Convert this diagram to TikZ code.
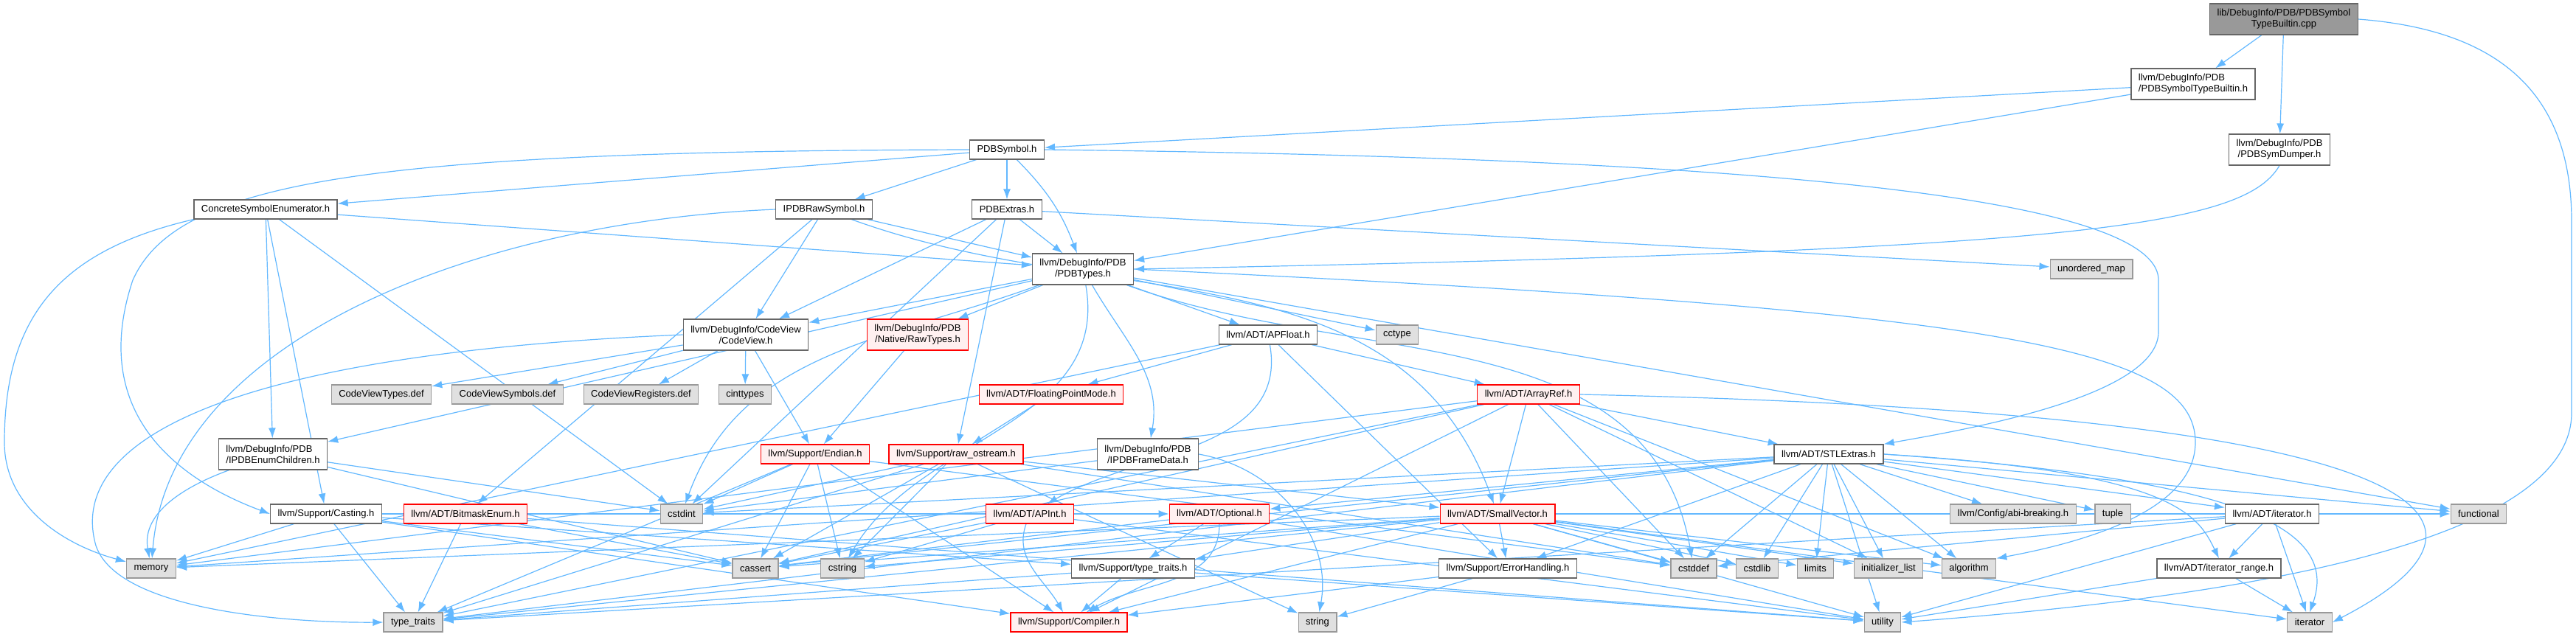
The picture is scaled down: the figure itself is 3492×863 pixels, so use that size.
\documentclass[tikz,border=0pt]{standalone}
\usepackage{fontspec}
\setmainfont{Liberation Sans}
\usepackage{tikz}
\usetikzlibrary{arrows.meta,backgrounds}
\definecolor{depblue}{HTML}{63B8FF}
\definecolor{boxgray}{HTML}{666666}
\definecolor{sysline}{HTML}{999999}
\definecolor{sysfill}{HTML}{E0E0E0}
\definecolor{cutfill}{HTML}{FFF0F0}
\definecolor{rootfill}{HTML}{999999}

\begin{document}
\begin{tikzpicture}[x=0.5pt,y=-0.5pt,>={Latex[length=7pt,width=5pt]},font=\fontsize{6.5}{7.5}\selectfont]
\tikzset{
file/.style={draw=boxgray,line width=0.6pt,fill=white,minimum height=13pt,inner xsep=5pt,inner ysep=2pt,align=center},
twoline/.style={minimum height=21pt},
sysfile/.style={file,draw=sysline,fill=sysfill},
cutfile/.style={file,draw=red,fill=cutfill},
mainfile/.style={file,fill=rootfill},
dep/.style={->,color=depblue,line width=0.6pt}}
\useasboundingbox (0,0) rectangle (3492,863);

\node[mainfile,twoline] (cpp) at (3096,26) {lib/DebugInfo/PDB/PDBSymbol\\TypeBuiltin.cpp};
\node[file,twoline,align=left] (bltn) at (2973,114) {llvm/DebugInfo/PDB\\/PDBSymbolTypeBuiltin.h};
\node[file] (sym) at (1365,203) {PDBSymbol.h};
\node[file,twoline] (dump) at (3090,203) {llvm/DebugInfo/PDB\\/PDBSymDumper.h};
\node[file] (cse) at (360,284) {ConcreteSymbolEnumerator.h};
\node[file] (raw) at (1117,284) {IPDBRawSymbol.h};
\node[file] (extras) at (1365,284) {PDBExtras.h};
\node[sysfile] (umap) at (2835,365) {unordered\_map};
\node[file,twoline] (types) at (1468,365) {llvm/DebugInfo/PDB\\/PDBTypes.h};
\node[file,twoline] (cv) at (1011,454) {llvm/DebugInfo/CodeView\\/CodeView.h};
\node[cutfile,twoline] (rawty) at (1244,454) {llvm/DebugInfo/PDB\\/Native/RawTypes.h};
\node[file] (apfloat) at (1719,454) {llvm/ADT/APFloat.h};
\node[sysfile] (cctype) at (1894,454) {cctype};
\node[sysfile] (cvtypes) at (517,535) {CodeViewTypes.def};
\node[sysfile] (cvsyms) at (688,535) {CodeViewSymbols.def};
\node[sysfile] (cvregs) at (869,535) {CodeViewRegisters.def};
\node[sysfile] (cinttypes) at (1010,535) {cinttypes};
\node[cutfile] (fpmode) at (1425,535) {llvm/ADT/FloatingPointMode.h};
\node[cutfile] (arrayref) at (2072,535) {llvm/ADT/ArrayRef.h};
\node[file,twoline,align=left] (enumch) at (370,616) {llvm/DebugInfo/PDB\\/IPDBEnumChildren.h};
\node[cutfile] (endian) at (1105,616) {llvm/Support/Endian.h};
\node[cutfile] (rawos) at (1296,616) {llvm/Support/raw\_ostream.h};
\node[file,twoline] (frame) at (1556,616) {llvm/DebugInfo/PDB\\/IPDBFrameData.h};
\node[file] (stlx) at (2479,616) {llvm/ADT/STLExtras.h};
\node[file] (casting) at (442,697) {llvm/Support/Casting.h};
\node[cutfile] (bitmask) at (631,697) {llvm/ADT/BitmaskEnum.h};
\node[sysfile] (cstdint) at (924,697) {cstdint};
\node[cutfile] (apint) at (1396,697) {llvm/ADT/APInt.h};
\node[cutfile] (optional) at (1653,697) {llvm/ADT/Optional.h};
\node[cutfile] (smallvec) at (2030,697) {llvm/ADT/SmallVector.h};
\node[sysfile] (abi) at (2729,697) {llvm/Config/abi-breaking.h};
\node[sysfile] (tuple) at (2864,697) {tuple};
\node[file] (iter) at (3080,697) {llvm/ADT/iterator.h};
\node[sysfile] (functional) at (3360,697) {functional};
\node[sysfile] (memory) at (205,771) {memory};
\node[sysfile] (cassert) at (1024,771) {cassert};
\node[sysfile] (cstring) at (1142,771) {cstring};
\node[file] (sttraits) at (1536,771) {llvm/Support/type\_traits.h};
\node[file] (errh) at (2044,771) {llvm/Support/ErrorHandling.h};
\node[sysfile] (cstddef) at (2296,771) {cstddef};
\node[sysfile] (cstdlib) at (2382,771) {cstdlib};
\node[sysfile] (limits) at (2461,771) {limits};
\node[sysfile] (initl) at (2560,771) {initializer\_list};
\node[sysfile] (algorithm) at (2669,771) {algorithm};
\node[file] (iterrange) at (3008,771) {llvm/ADT/iterator\_range.h};
\node[sysfile] (typetraits) at (560,844) {type\_traits};
\node[cutfile] (compiler) at (1449,844) {llvm/Support/Compiler.h};
\node[sysfile] (string) at (1786,844) {string};
\node[sysfile] (utility) at (2552,844) {utility};
\node[sysfile] (iterator) at (3131,844) {iterator};

\begin{pgfonlayer}{background}
% the source file and the PDB headers
\draw[dep] (cpp)--(bltn);
\draw[dep] (cpp)--(dump);
\draw[dep] (cpp.east) .. controls (3380,40) and (3486,120) .. (3486,300) -- (3486,560) .. controls (3486,760) and (2900,820) .. (utility.east);
\draw[dep] (bltn)--(sym);
\draw[dep] (bltn)--(types);
\draw[dep] (dump.south) .. controls (3040,310) and (2800,340) .. (types.east);
\draw[dep] (sym)--(cse);
\draw[dep] (sym)--(raw);
\draw[dep] (sym)--(extras);
\draw[dep] (sym) to[bend left=12] (types);
\draw[dep] (sym.east) .. controls (2200,212) and (2926,250) .. (2926,380) -- (2926,450) .. controls (2926,540) and (2650,585) .. (stlx.north east);
\draw[dep] (sym.west) .. controls (500,205) and (240,245) .. (180,380) .. controls (120,560) and (240,650) .. (casting.west);
\draw[dep] (cse)--(types);
\draw[dep] (cse)--(enumch);
\draw[dep] (cse)--(casting);
\draw[dep] (cse)--(cstdint);
\draw[dep] (cse.south west) .. controls (80,340) and (6,430) .. (6,600) .. controls (6,690) and (90,740) .. (memory);
\draw[dep] (raw)--(types);
\draw[dep] (raw)--(cv);
\draw[dep] (raw)--(bitmask);
\draw[dep] (raw) to[out=-20,in=110] (smallvec);
\draw[dep] (raw.west) .. controls (650,300) and (230,460) .. (memory);
\draw[dep] (extras)--(types);
\draw[dep] (extras)--(cv);
\draw[dep] (extras)--(rawos);
\draw[dep] (extras)--(cstdint);
\draw[dep] (extras)--(umap);
\draw[dep] (types)--(cv);
\draw[dep] (types)--(rawty);
\draw[dep] (types)--(apfloat);
\draw[dep] (types)--(cctype);
\draw[dep] (types)--(enumch);
\draw[dep] (types) to[out=-60,in=80] (frame);
\draw[dep] (types) to[out=200,in=70] (cstdint);
\draw[dep] (types) to[out=-80,in=60] (cstring);
\draw[dep] (types) to[out=-20,in=100] (cstddef);
\draw[dep] (types)--(functional);
\draw[dep] (types.east) .. controls (2700,420) and (2976,470) .. (2976,600) .. controls (2976,700) and (2800,740) .. (algorithm.north east);
% CodeView and the ADT headers
\draw[dep] (cv)--(cvtypes);
\draw[dep] (cv)--(cvsyms);
\draw[dep] (cv)--(cvregs);
\draw[dep] (cv)--(cinttypes);
\draw[dep] (cv)--(endian);
\draw[dep] (cv.west) .. controls (300,480) and (90,600) .. (130,740) .. controls (160,830) and (400,845) .. (typetraits.west);
\draw[dep] (rawty)--(endian);
\draw[dep] (apfloat) to[out=-80,in=30] (apint);
\draw[dep] (apfloat)--(arrayref);
\draw[dep] (apfloat)--(fpmode);
\draw[dep] (apfloat)--(errh);
\draw[dep] (apfloat)--(memory);
\draw[dep] (fpmode)--(rawos);
\draw[dep] (arrayref)--(stlx);
\draw[dep] (arrayref)--(smallvec);
\draw[dep] (arrayref)--(compiler);
\draw[dep] (arrayref)--(algorithm);
\draw[dep] (arrayref)--(cassert);
\draw[dep] (arrayref)--(cstddef);
\draw[dep] (arrayref)--(initl);
\draw[dep] (arrayref.east) .. controls (3300,560) and (3440,700) .. (iterator.east);
\draw[dep] (arrayref)--(memory);
\draw[dep] (arrayref)--(typetraits);
\draw[dep] (enumch)--(cassert);
\draw[dep] (enumch)--(cstdint);
\draw[dep] (enumch) to[out=200,in=100] (memory);
\draw[dep] (frame)--(cstdint);
\draw[dep] (frame.east) to[out=-10,in=80] (string);
\draw[dep] (endian)--(compiler);
\draw[dep] (endian)--(cassert);
\draw[dep] (endian)--(cstddef);
\draw[dep] (endian)--(cstdint);
\draw[dep] (endian)--(cstring);
\draw[dep] (endian)--(typetraits);
\draw[dep] (rawos)--(smallvec);
\draw[dep] (rawos)--(cassert);
\draw[dep] (rawos)--(cstddef);
\draw[dep] (rawos)--(cstdint);
\draw[dep] (rawos)--(cstring);
\draw[dep] (rawos)--(string);
\draw[dep] (rawos)--(typetraits);
\draw[dep] (casting)--(memory);
\draw[dep] (casting)--(typetraits);
\draw[dep] (casting)--(cassert);
\draw[dep] (casting)--(optional);
\draw[dep] (casting)--(sttraits);
\draw[dep] (casting)--(compiler);
\draw[dep] (bitmask)--(typetraits);
\draw[dep] (bitmask)--(cassert);
\draw[dep] (bitmask)--(utility);
\draw[dep] (apint) to[out=-110,in=120] (compiler);
\draw[dep] (apint)--(cassert);
\draw[dep] (apint)--(cstring);
\draw[dep] (apint)--(utility);
\draw[dep] (optional)--(sttraits);
\draw[dep] (optional) to[out=-90,in=30] (compiler);
\draw[dep] (optional)--(cassert);
\draw[dep] (optional)--(utility);
\draw[dep] (smallvec)--(errh);
\draw[dep] (smallvec)--(compiler);
\draw[dep] (smallvec)--(sttraits);
\draw[dep] (smallvec)--(algorithm);
\draw[dep] (smallvec)--(cassert);
\draw[dep] (smallvec)--(cstddef);
\draw[dep] (smallvec)--(cstdlib);
\draw[dep] (smallvec)--(cstring);
\draw[dep] (smallvec)--(functional);
\draw[dep] (smallvec)--(initl);
\draw[dep] (smallvec)--(iterator);
\draw[dep] (smallvec)--(limits);
\draw[dep] (smallvec)--(memory);
\draw[dep] (smallvec)--(typetraits);
\draw[dep] (smallvec)--(utility);
\draw[dep] (stlx)--(iter);
\draw[dep] (stlx.east) .. controls (2950,640) and (2980,700) .. (iterrange.north);
\draw[dep] (stlx)--(abi);
\draw[dep] (stlx)--(errh);
\draw[dep] (stlx)--(optional);
\draw[dep] (stlx)--(algorithm);
\draw[dep] (stlx)--(cassert);
\draw[dep] (stlx)--(cstddef);
\draw[dep] (stlx)--(cstdint);
\draw[dep] (stlx)--(cstdlib);
\draw[dep] (stlx)--(functional);
\draw[dep] (stlx)--(initl);
\draw[dep] (stlx.east) .. controls (3050,650) and (3170,720) .. (iterator.north);
\draw[dep] (stlx)--(limits);
\draw[dep] (stlx)--(memory);
\draw[dep] (stlx)--(tuple);
\draw[dep] (stlx)--(typetraits);
\draw[dep] (stlx)--(utility);
\draw[dep] (sttraits)--(compiler);
\draw[dep] (sttraits)--(typetraits);
\draw[dep] (sttraits)--(utility);
\draw[dep] (errh)--(compiler);
\draw[dep] (errh)--(string);
\draw[dep] (iter)--(iterrange);
\draw[dep] (iter)--(iterator);
\draw[dep] (iter)--(typetraits);
\draw[dep] (iter)--(cstddef);
\draw[dep] (iter)--(utility);
\draw[dep] (iterrange)--(iterator);
\draw[dep] (iterrange)--(utility);
\end{pgfonlayer}
\end{tikzpicture}
\end{document}
